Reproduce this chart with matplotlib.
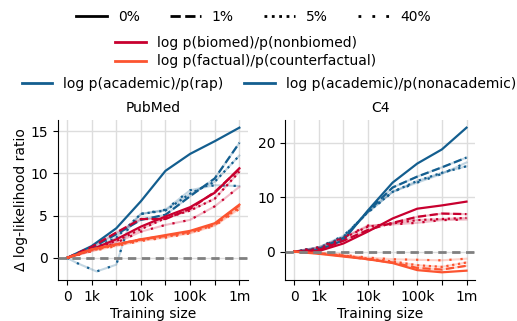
import matplotlib.pyplot as plt
from matplotlib.lines import Line2D
import numpy as np

# training sizes shown on a log-ish index axis
steps = [0, 1, 2, 3, 4, 5, 6, 7]
tick_labels = ['0', '1k', '', '10k', '', '100k', '', '1m']

blue = '#135e8f'
crimson = '#c8002f'
orange = '#fc5430'

# PubMed panel
pm_acad_0 = [0, 1.4, 3.5, 6.7, 10.3, 12.3, 13.8, 15.4]
pm_acad_1 = [0, 1.2, 2.8, 4.5, 5.1, 7.3, 9.4, 13.6]
pm_acad_5 = [0, 1.0, 2.4, 5.2, 5.6, 7.6, 9.0, 12.1]
pm_acad_40_x = [0, 0.4, 1.2, 2, 2.45, 3, 4, 5, 6, 7]
pm_acad_40 = [0, -0.6, -1.6, -0.8, 3.3, 5.2, 5.7, 8.0, 8.6, 8.5]

pm_bio_0 = [0, 1.0, 2.2, 3.7, 4.9, 6.0, 7.7, 10.6]
pm_bio_1 = [0, 1.3, 3.0, 4.6, 4.6, 5.8, 7.8, 10.5]
pm_bio_5 = [0, 1.0, 2.0, 3.4, 4.7, 5.6, 7.0, 10.2]
pm_bio_40 = [0, 0.8, 1.8, 3.1, 3.9, 4.5, 6.1, 8.4]

pm_fact_0 = [0, 1.0, 1.6, 2.2, 2.7, 3.2, 4.1, 6.3]
pm_fact_1 = [0, 1.0, 1.6, 2.2, 2.6, 3.1, 4.0, 6.2]
pm_fact_5 = [0, 0.9, 1.5, 2.1, 2.5, 3.0, 3.9, 6.0]
pm_fact_40 = [0, 0.8, 1.4, 2.0, 2.4, 2.9, 3.8, 5.8]

# C4 panel
c4_acad_0 = [0, 0.3, 2.1, 7.6, 12.7, 16.2, 18.8, 22.8]
c4_acad_1 = [0, 0.5, 2.5, 7.4, 11.8, 13.8, 15.5, 17.3]
c4_acad_5 = [0, 0.7, 2.7, 7.3, 11.0, 13.0, 14.5, 15.7]
c4_acad_40 = [0, 0.8, 2.9, 7.2, 11.0, 12.7, 14.3, 16.4]

c4_bio_0 = [0, 0.1, 1.5, 3.7, 6.1, 7.9, 8.5, 9.2]
c4_bio_1 = [0, 0.3, 2.0, 4.0, 5.3, 6.4, 7.0, 6.9]
c4_bio_5 = [0, 0.5, 2.5, 4.6, 5.2, 5.8, 6.0, 6.2]
c4_bio_40 = [0, 0.8, 2.6, 4.8, 5.0, 5.3, 5.8, 5.9]

c4_fact_0 = [0, -0.4, -0.9, -1.4, -2.1, -3.4, -3.8, -3.5]
c4_fact_1 = [0, -0.3, -0.8, -1.4, -2.0, -3.0, -3.3, -2.6]
c4_fact_5 = [0, -0.3, -0.7, -1.3, -1.8, -2.5, -2.8, -2.0]
c4_fact_40 = [0, -0.2, -0.6, -1.1, -1.4, -1.5, -1.6, -1.3]

styles = {'0%': '-', '1%': (0, (3.7, 1.6)), '5%': (0, (1, 1.65)), '40%': (0, (1, 4))}


def draw(ax, x, y, color, style):
    if style != '0%':
        # faint base line under the broken ones
        ax.plot(x, y, color=color, lw=1.5, alpha=0.25, zorder=2)
    ax.plot(x, y, color=color, lw=1.6, linestyle=styles[style], zorder=3)


fig, axes = plt.subplots(1, 2, figsize=(5.17, 3.21), dpi=100)
plt.subplots_adjust(left=0.112, right=0.919, top=0.626, bottom=0.128, wspace=0.195)

panels = [
    ('PubMed', axes[0], [
        (pm_acad_0, pm_acad_1, pm_acad_5, pm_acad_40, blue),
        (pm_bio_0, pm_bio_1, pm_bio_5, pm_bio_40, crimson),
        (pm_fact_0, pm_fact_1, pm_fact_5, pm_fact_40, orange)]),
    ('C4', axes[1], [
        (c4_acad_0, c4_acad_1, c4_acad_5, c4_acad_40, blue),
        (c4_bio_0, c4_bio_1, c4_bio_5, c4_bio_40, crimson),
        (c4_fact_0, c4_fact_1, c4_fact_5, c4_fact_40, orange)]),
]

for title, ax, groups in panels:
    for s0, s1, s5, s40, col in groups:
        draw(ax, steps, s0, col, '0%')
        draw(ax, steps, s1, col, '1%')
        draw(ax, steps, s5, col, '5%')
        if s40 is pm_acad_40:
            draw(ax, pm_acad_40_x, s40, col, '40%')
        else:
            draw(ax, steps, s40, col, '40%')
    ax.axhline(0, color='gray', lw=2, linestyle=(0, (3, 2)), zorder=4)
    ax.set_xticks(steps)
    ax.set_xticklabels(tick_labels, fontsize=10)
    ax.tick_params(labelsize=10)
    ax.set_xlim(-0.37, 7.35)
    ax.grid(True, color='#dddddd', lw=1)
    ax.set_axisbelow(True)
    ax.spines['top'].set_visible(False)
    ax.spines['right'].set_visible(False)
    ax.set_title(title, fontsize=10)
    ax.set_xlabel('Training size', fontsize=10, labelpad=2.5)

axes[0].set_ylim(-2.6, 16.3)
axes[0].set_yticks([0, 5, 10, 15])
axes[1].set_ylim(-5.2, 24.2)
axes[1].set_yticks([0, 10, 20])
axes[0].set_ylabel('Δ log-likelihood ratio', fontsize=10, labelpad=2)

# legends
style_handles = [Line2D([], [], color='black', lw=2, linestyle=styles[k]) for k in styles]
leg1 = fig.legend(style_handles, list(styles.keys()), loc='center', bbox_to_anchor=(0.49, 0.947),
                  ncol=4, frameon=False, fontsize=10, handlelength=2.2, columnspacing=2.2)
leg2 = fig.legend([Line2D([], [], color=crimson, lw=2), Line2D([], [], color=orange, lw=2)],
                  ['log p(biomed)/p(nonbiomed)', 'log p(factual)/p(counterfactual)'],
                  loc='center', bbox_to_anchor=(0.475, 0.837), ncol=1, frameon=False,
                  fontsize=10, handlelength=2.2, labelspacing=0.3)
leg3 = fig.legend([Line2D([], [], color=blue, lw=2), Line2D([], [], color=blue, lw=2)],
                  ['log p(academic)/p(rap)', 'log p(academic)/p(nonacademic)'],
                  loc='center', bbox_to_anchor=(0.52, 0.738), ncol=2, frameon=False,
                  fontsize=10, handlelength=2.2, columnspacing=1.5)

fig.savefig('out.png', dpi=100)
